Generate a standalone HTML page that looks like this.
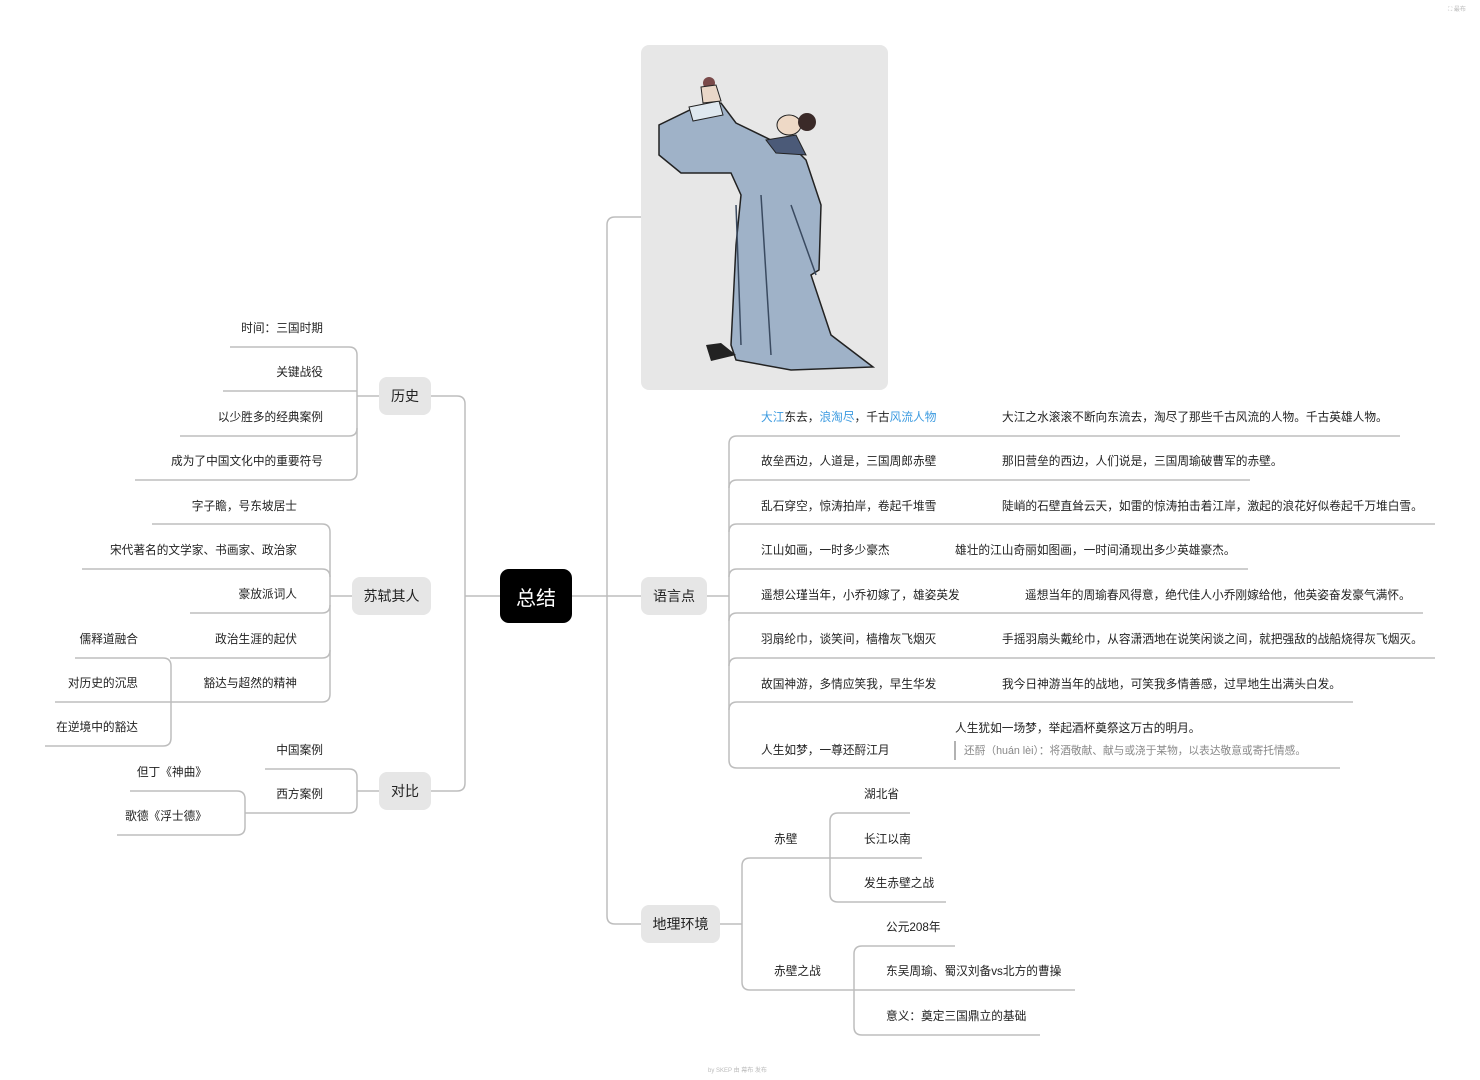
<!DOCTYPE html>
<html><head><meta charset="utf-8">
<style>
body{margin:0;width:1480px;height:1080px;background:#fff;position:relative;overflow:hidden;font-family:"Liberation Sans","Noto Sans CJK SC",sans-serif;color:#222}
.t{position:absolute;font-size:11.7px;line-height:16px;white-space:nowrap}
.r{text-align:right}
.n{position:absolute;background:#e6e6e6;border-radius:8px;font-size:14px;display:flex;align-items:center;justify-content:center;color:#222}
.b{color:#3d9be0}
</style></head><body>
<svg width="1480" height="1080" style="position:absolute;left:0;top:0" fill="none" stroke="#bdbdbd" stroke-width="1.5">
<path d="M500,596 H465"/>
<path d="M431,396 H457 Q465,396 465,404 V783 Q465,791 457,791 H431"/>
<path d="M379,396 H357"/>
<path d="M230,347 H349 Q357,347 357,355 V472 Q357,480 349,480 H135"/>
<path d="M223,391 H357 M180,436 H349 Q357,436 357,428"/>
<path d="M352,596 H330"/>
<path d="M152,524 H322 Q330,524 330,532 V694 Q330,702 322,702 H55"/>
<path d="M82,569 H322 Q330,569 330,577 M190,613 H322 Q330,613 330,605 M170,658 H322 Q330,658 330,650"/>
<path d="M75,658 H163 Q171,658 171,666 V738 Q171,746 163,746 H45"/>
<path d="M379,791 H357"/>
<path d="M265,769 H349 Q357,769 357,777 V805 Q357,813 349,813 H245"/>
<path d="M130,791 H237 Q245,791 245,799 V827 Q245,835 237,835 H117"/>
<path d="M572,596 H641"/>
<path d="M641,217 H615 Q607,217 607,225 V916 Q607,924 615,924 H641"/>
<path d="M706,596 H729"/>
<path d="M1400,436 H737 Q729,436 729,444 V760 Q729,768 737,768 H1340"/>
<path d="M1250,480 H737 Q729,480 729,488 M1435,524 H737 Q729,524 729,532 M1248,569 H737 Q729,569 729,577 M1423,613 H737 Q729,613 729,621 M1435,658 H737 Q729,658 729,666 M1353,702 H737 Q729,702 729,710"/>
<path d="M720,924 H742"/>
<path d="M922,858 H750 Q742,858 742,866 V982 Q742,990 750,990 H1075"/>
<path d="M910,813 H838 Q830,813 830,821 V894 Q830,902 838,902 H946"/>
<path d="M955,946 H862 Q854,946 854,954 V1027 Q854,1035 862,1035 H1040"/>
<line x1="955" y1="741" x2="955" y2="760" stroke="#999"/>
</svg>

<div style="position:absolute;left:641px;top:45px;width:247px;height:345px;background:#e7e7e7;border-radius:8px;overflow:hidden">
<svg width="247" height="345">
<path d="M55,62 L80,58 L95,78 L130,95 L150,100 L165,115 L180,160 L178,225 L170,230 L190,290 L232,322 L150,325 L95,315 L90,300 L95,200 L100,150 L90,128 L40,128 L18,110 L18,80 Z" fill="#9fb2c8" stroke="#222" stroke-width="1.5"/>
<path d="M95,160 L100,300 M120,150 L130,310 M150,160 L175,230" stroke="#3a4a60" stroke-width="1.5" fill="none"/>
<path d="M48,62 L78,56 L82,70 L52,76 Z" fill="#dfe8ef" stroke="#222"/>
<circle cx="68" cy="38" r="6" fill="#7a4a4a"/>
<path d="M60,42 L75,40 L80,56 L62,58 Z" fill="#e9d7c8" stroke="#222"/>
<path d="M125,95 L155,90 L165,110 L135,108 Z" fill="#4b5a78" stroke="#222"/>
<ellipse cx="148" cy="80" rx="12" ry="10" fill="#eed9c6" stroke="#222"/>
<ellipse cx="166" cy="77" rx="9" ry="9" fill="#3a2a28"/>
<path d="M65,300 L80,298 L95,310 L70,316 Z" fill="#222"/>
</svg></div>

<div class="n" style="left:500px;top:569px;width:72px;height:54px;background:#000;color:#fff;font-size:20px;border-radius:9px">总结</div>
<div class="n" style="left:379px;top:377px;width:52px;height:38px">历史</div>
<div class="n" style="left:352px;top:577px;width:79px;height:38px">苏轼其人</div>
<div class="n" style="left:379px;top:772px;width:52px;height:38px">对比</div>
<div class="n" style="left:641px;top:577px;width:66px;height:38px">语言点</div>
<div class="n" style="left:641px;top:905px;width:79px;height:38px">地理环境</div>

<div class="t r" style="right:1157px;top:321px">时间：三国时期</div>
<div class="t r" style="right:1157px;top:365px">关键战役</div>
<div class="t r" style="right:1157px;top:410px">以少胜多的经典案例</div>
<div class="t r" style="right:1157px;top:454px">成为了中国文化中的重要符号</div>
<div class="t r" style="right:1183px;top:499px">字子瞻，号东坡居士</div>
<div class="t r" style="right:1183px;top:543px">宋代著名的文学家、书画家、政治家</div>
<div class="t r" style="right:1183px;top:587px">豪放派词人</div>
<div class="t r" style="right:1183px;top:632px">政治生涯的起伏</div>
<div class="t r" style="right:1183px;top:676px">豁达与超然的精神</div>
<div class="t r" style="right:1342px;top:632px">儒释道融合</div>
<div class="t r" style="right:1342px;top:676px">对历史的沉思</div>
<div class="t r" style="right:1342px;top:720px">在逆境中的豁达</div>
<div class="t r" style="right:1157px;top:743px">中国案例</div>
<div class="t r" style="right:1157px;top:787px">西方案例</div>
<div class="t r" style="right:1273px;top:765px">但丁《神曲》</div>
<div class="t r" style="right:1273px;top:809px">歌德《浮士德》</div>

<div class="t" style="left:761px;top:410px"><span class="b">大江</span>东去，<span class="b">浪淘尽</span>，千古<span class="b">风流人物</span></div>
<div class="t" style="left:1002px;top:410px">大江之水滚滚不断向东流去，淘尽了那些千古风流的人物。千古英雄人物。</div>
<div class="t" style="left:761px;top:454px">故垒西边，人道是，三国周郎赤壁</div>
<div class="t" style="left:1002px;top:454px">那旧营垒的西边，人们说是，三国周瑜破曹军的赤壁。</div>
<div class="t" style="left:761px;top:499px">乱石穿空，惊涛拍岸，卷起千堆雪</div>
<div class="t" style="left:1002px;top:499px">陡峭的石壁直耸云天，如雷的惊涛拍击着江岸，激起的浪花好似卷起千万堆白雪。</div>
<div class="t" style="left:761px;top:543px">江山如画，一时多少豪杰</div>
<div class="t" style="left:955px;top:543px">雄壮的江山奇丽如图画，一时间涌现出多少英雄豪杰。</div>
<div class="t" style="left:761px;top:588px">遥想公瑾当年，小乔初嫁了，雄姿英发</div>
<div class="t" style="left:1025px;top:588px">遥想当年的周瑜春风得意，绝代佳人小乔刚嫁给他，他英姿奋发豪气满怀。</div>
<div class="t" style="left:761px;top:632px">羽扇纶巾，谈笑间，樯橹灰飞烟灭</div>
<div class="t" style="left:1002px;top:632px">手摇羽扇头戴纶巾，从容潇洒地在说笑闲谈之间，就把强敌的战船烧得灰飞烟灭。</div>
<div class="t" style="left:761px;top:677px">故国神游，多情应笑我，早生华发</div>
<div class="t" style="left:1002px;top:677px">我今日神游当年的战地，可笑我多情善感，过早地生出满头白发。</div>
<div class="t" style="left:761px;top:743px">人生如梦，一尊还酹江月</div>
<div class="t" style="left:955px;top:721px">人生犹如一场梦，举起酒杯奠祭这万古的明月。</div>
<div class="t" style="left:964px;top:743px;font-size:10.7px;color:#888">还酹（huán lèi）：将酒敬献、献与或浇于某物，以表达敬意或寄托情感。</div>

<div class="t" style="left:774px;top:832px">赤壁</div>
<div class="t" style="left:774px;top:964px">赤壁之战</div>
<div class="t" style="left:864px;top:787px">湖北省</div>
<div class="t" style="left:864px;top:832px">长江以南</div>
<div class="t" style="left:864px;top:876px">发生赤壁之战</div>
<div class="t" style="left:886px;top:920px">公元208年</div>
<div class="t" style="left:886px;top:964px">东吴周瑜、蜀汉刘备vs北方的曹操</div>
<div class="t" style="left:886px;top:1009px">意义：奠定三国鼎立的基础</div>

<div class="t" style="left:708px;top:1063px;font-size:6px;color:#bbb">by SKEP 由 幕布 发布</div>
<div class="t" style="left:1448px;top:2px;font-size:6px;color:#bbb">⛶ 最布</div>
</body></html>
